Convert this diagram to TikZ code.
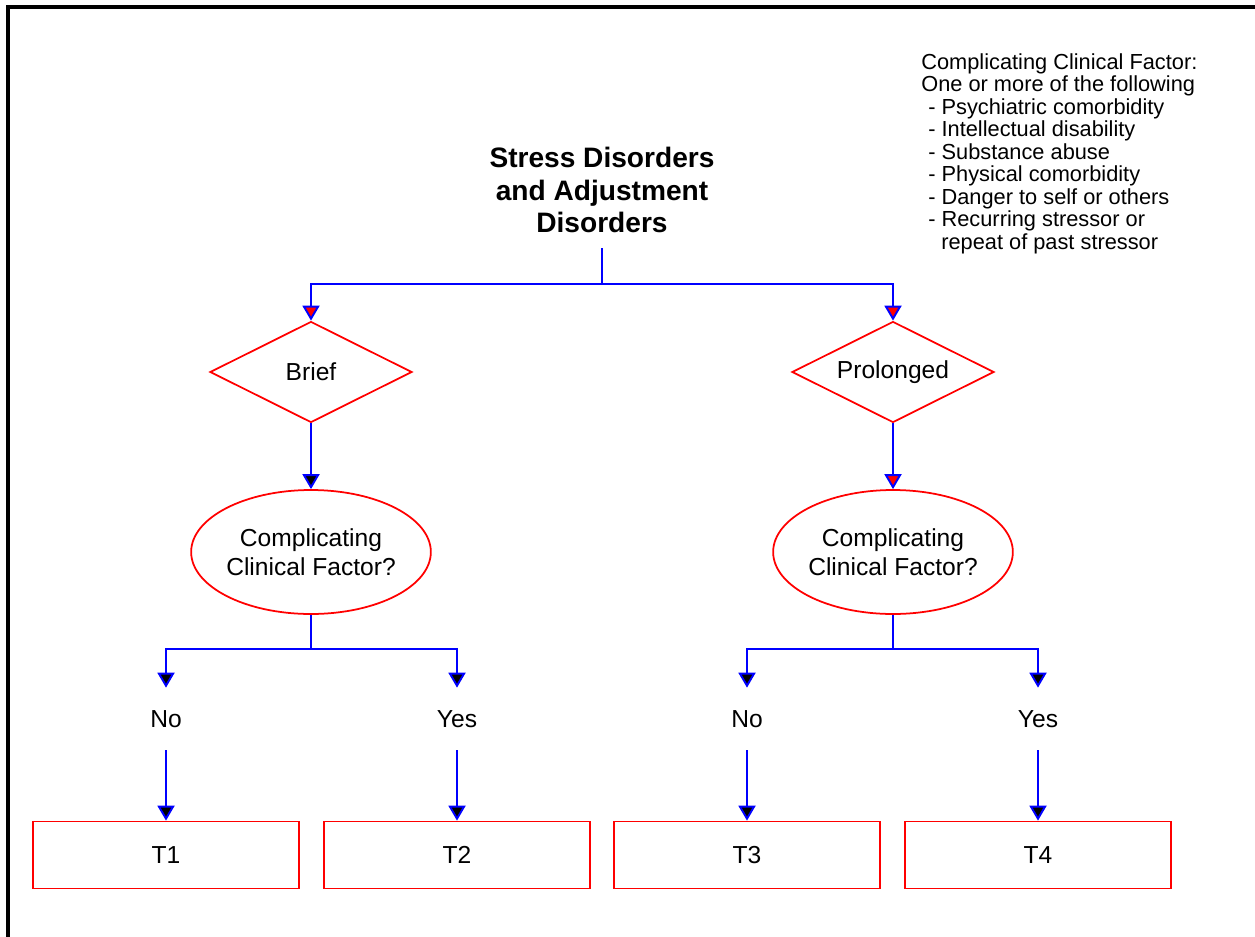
\documentclass[tikz,border=0pt]{standalone}
\usepackage{fontspec}
\setmainfont{Liberation Sans}
\usetikzlibrary{shapes,arrows.meta,positioning,calc}
\definecolor{wireblue}{RGB}{0,0,255}
\definecolor{shapered}{RGB}{255,0,0}

\begin{document}
\begin{tikzpicture}[x=0.02cm, y=-0.02cm,
  wire/.style={draw=wireblue, line width=1.1pt},
  tipred/.style={wire, -{Triangle[length=0.3cm, width=0.34cm, fill=shapered]}},
  tipblack/.style={wire, -{Triangle[length=0.3cm, width=0.34cm, fill=black]}},
  choice/.style={diamond, draw=shapered, line width=1pt, minimum width=4.04cm, minimum height=2.02cm, inner sep=0pt, font=\fontsize{14}{16.5}\selectfont},
  question/.style={ellipse, draw=shapered, line width=1pt, minimum width=4.72cm, minimum height=2.48cm, inner sep=0pt, align=center, font=\fontsize{14}{16.5}\selectfont},
  answer/.style={minimum height=1.24cm, inner sep=0pt, font=\fontsize{14}{16.5}\selectfont},
  outcome/.style={rectangle, draw=shapered, line width=1pt, minimum width=5.32cm, minimum height=1.34cm, font=\fontsize{14}{16.5}\selectfont}
]
  \useasboundingbox (0,0) rectangle (1255,937);
  \draw[line width=0.08cm] (8,937) -- (8,7) -- (1255,7);

  \node[align=center, inner xsep=0pt, inner ysep=0.3cm, font=\fontsize{16}{18.5}\selectfont\bfseries] (title) at (602,190)
    {Stress Disorders\\and Adjustment\\Disorders};
  \node[anchor=north west, align=left, inner sep=0pt, font=\fontsize{12.4}{12.8}\selectfont] (factors) at (921,53)
    {Complicating Clinical Factor:\\One or more of the following\\
     \hspace*{0.14cm}- Psychiatric comorbidity\\\hspace*{0.14cm}- Intellectual disability\\
     \hspace*{0.14cm}- Substance abuse\\\hspace*{0.14cm}- Physical comorbidity\\
     \hspace*{0.14cm}- Danger to self or others\\\hspace*{0.14cm}- Recurring stressor or\\
     \hspace*{0.4cm}repeat of past stressor};

  \node[choice]   (brief)     at (311,372) {\makebox[0pt]{Brief}};
  \node[choice]   (prolonged) at (893,372) {\makebox[0pt]{Prolonged}};
  \node[question] (ccfL) at (311,552) {Complicating\\Clinical Factor?};
  \node[question] (ccfR) at (893,552) {Complicating\\Clinical Factor?};

  \node[answer] (noL)  at (166,719)  {No};
  \node[answer] (yesL) at (457,719)  {Yes};
  \node[answer] (noR)  at (747,719)  {No};
  \node[answer] (yesR) at (1038,719) {Yes};

  \node[outcome] (t1) at (166,855)  {T1};
  \node[outcome] (t2) at (457,855)  {T2};
  \node[outcome] (t3) at (747,855)  {T3};
  \node[outcome] (t4) at (1038,855) {T4};

  % branch points
  \coordinate (top)   at (602,284);
  \coordinate (forkL) at (311,649);
  \coordinate (forkR) at (893,649);

  \draw[wire] (title) -- (top);
  \draw[tipred] (top) -| (brief);
  \draw[tipred] (top) -| (prolonged);
  \draw[tipblack] (brief) -- (ccfL);
  \draw[tipred] (prolonged) -- (ccfR);

  \draw[wire] (ccfL) -- (forkL);
  \draw[wire] (ccfR) -- (forkR);
  \draw[tipblack] (forkL) -| (noL);
  \draw[tipblack] (forkL) -| (yesL);
  \draw[tipblack] (forkR) -| (noR);
  \draw[tipblack] (forkR) -| (yesR);

  \draw[tipblack] (noL) -- (t1);
  \draw[tipblack] (yesL) -- (t2);
  \draw[tipblack] (noR) -- (t3);
  \draw[tipblack] (yesR) -- (t4);
\end{tikzpicture}
\end{document}
